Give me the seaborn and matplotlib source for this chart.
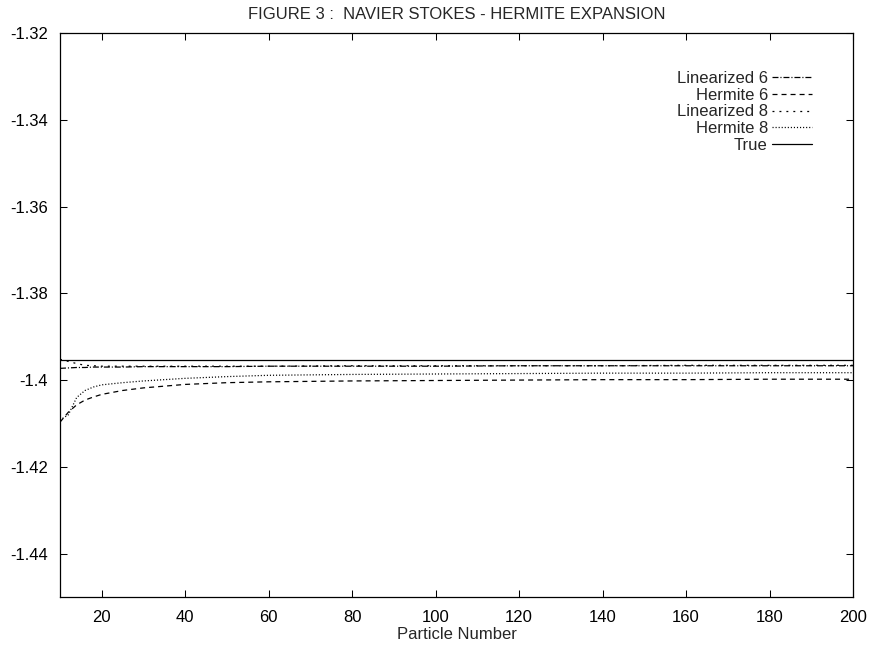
import matplotlib
matplotlib.use("Agg")
import matplotlib.pyplot as plt
import seaborn as sns
import pandas as pd

# Particle numbers and energies for each approximation
particles = [10, 12, 14, 16, 18, 20, 25, 30, 40, 50, 60, 80, 100, 120, 140, 160, 180, 200]
linearized_6 = [-1.3973, -1.3972, -1.3971, -1.3971, -1.3970, -1.3970, -1.3970, -1.3969, -1.3969,
                -1.3969, -1.3968, -1.3968, -1.3968, -1.3967, -1.3967, -1.3967, -1.3967, -1.3967]
hermite_6 = [-1.4097, -1.4074, -1.4057, -1.4046, -1.4039, -1.4033, -1.4024, -1.4018, -1.4010,
             -1.4006, -1.4004, -1.4002, -1.4001, -1.4000, -1.3999, -1.3999, -1.3998, -1.3998]
linearized_8 = [-1.3952, -1.3957, -1.3962, -1.3966, -1.3967, -1.3968, -1.3968, -1.3968, -1.3968,
                -1.3968, -1.3968, -1.3967, -1.3967, -1.3967, -1.3967, -1.3966, -1.3966, -1.3966]
hermite_8 = [-1.4092, -1.4080, -1.4040, -1.4024, -1.4016, -1.4011, -1.4006, -1.4002, -1.3996,
             -1.3992, -1.3989, -1.3987, -1.3986, -1.3985, -1.3984, -1.3984, -1.3983, -1.3983]
true_value = -1.3953

series_names = ["Linearized 6", "Hermite 6", "Linearized 8", "Hermite 8", "True"]
x_ticks = [20, 40, 60, 80, 100, 120, 140, 160, 180, 200]
y_ticks = [-1.44, -1.42, -1.40, -1.38, -1.36, -1.34, -1.32]
y_tick_labels = ["-1.44", "-1.42", "-1.4", "-1.38", "-1.36", "-1.34", "-1.32"]

sns.set_style("ticks")
plt.rcParams["font.family"] = ["Liberation Sans", "DejaVu Sans"]
plt.rcParams["lines.scale_dashes"] = False

df = pd.DataFrame({
    "N": particles * 5,
    "energy": linearized_6 + hermite_6 + linearized_8 + hermite_8 + [true_value] * len(particles),
    "series": sum([[s] * len(particles) for s in series_names], []),
})

dash_styles = {
    "Linearized 6": (4.3, 1.4, 0.8, 1.4),
    "Hermite 6": (3.6, 2.9),
    "Linearized 8": (1.4, 3.6),
    "Hermite 8": (0.8, 1.4),
    "True": "",
}

fig = plt.figure(figsize=(8.69, 6.47), dpi=100)
ax = fig.add_axes([60 / 869, 1 - 597 / 647, 793 / 869, 564 / 647])

sns.lineplot(data=df, x="N", y="energy", style="series", style_order=series_names,
             dashes=dash_styles, color="black", linewidth=0.9, ax=ax)

ax.set_xlim(10, 200)
ax.set_ylim(-1.45, -1.32)
ax.set_xticks(x_ticks)
ax.set_xticklabels([str(t) for t in x_ticks])
ax.set_yticks(y_ticks)
ax.set_yticklabels(y_tick_labels)

ax.tick_params(axis="both", direction="in", length=5, width=0.75, colors="black",
               labelsize=12, top=True, right=True)
ax.tick_params(axis="x", pad=9)
ax.tick_params(axis="y", pad=8.5)
for sp in ax.spines.values():
    sp.set_visible(True)
    sp.set_linewidth(0.9)
    sp.set_color("black")

ax.set_xlabel("Particle Number", fontsize=12, labelpad=1.5)
ax.set_ylabel("")
ax.set_title("FIGURE 3 :  NAVIER STOKES - HERMITE EXPANSION", fontsize=12, pad=10)

handles, labels = ax.get_legend_handles_labels()
leg = ax.legend(handles, labels, loc="upper right", frameon=False, markerfirst=False,
                fontsize=12, handlelength=2.4, handletextpad=0.25, labelspacing=0.1,
                borderpad=0, borderaxespad=0,
                bbox_to_anchor=((812 - 60) / 793, 1 - (71 - 33) / 564))

fig.savefig("out.png", dpi=100)
